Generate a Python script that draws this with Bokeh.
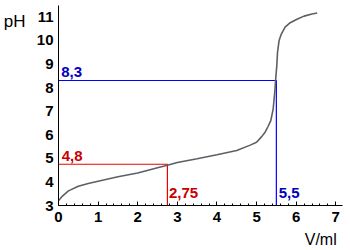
from bokeh.plotting import figure
from bokeh.models import Range1d, Label, FixedTicker, LinearAxis
from bokeh.embed import file_html
from bokeh.resources import INLINE

# Titration curve data (volume in ml, pH)
volume = [0, 0.1, 0.25, 0.5, 0.75, 1.0, 1.5, 2.0, 2.5, 2.75, 3.0, 3.5, 4.0, 4.5,
          4.84, 5.0, 5.13, 5.22, 5.29, 5.36, 5.42, 5.46, 5.48, 5.51, 5.53, 5.57,
          5.62, 5.72, 5.85, 6.02, 6.2, 6.4, 6.53]
ph = [3.2, 3.4, 3.62, 3.82, 3.93, 4.03, 4.22, 4.38, 4.6, 4.71, 4.82, 4.98, 5.15, 5.33,
      5.56, 5.68, 5.92, 6.12, 6.35, 6.6, 7.1, 7.8, 8.3, 8.9, 9.5, 10.0,
      10.25, 10.56, 10.75, 10.9, 11.03, 11.12, 11.16]

x_ticks = [0, 1, 2, 3, 4, 5, 6, 7]
y_ticks = [3, 4, 5, 6, 7, 8, 9, 10, 11]

eq_volume = 5.5
eq_ph = 8.3
half_volume = 2.75
half_ph = 4.75

eq_volume_label = "5,5"
eq_ph_label = "8,3"
half_volume_label = "2,75"
half_ph_label = "4,8"
x_title = "V/ml"
y_title = "pH"

RED_LINE = "#ee0000"
RED_TEXT = "#c80000"
BLUE_LINE = "#0000ff"
BLUE_TEXT = "#0000c0"
FONT = "Liberation Sans"

p = figure(width=350, height=250, output_backend="svg", toolbar_location=None,
           x_range=Range1d(0, 7.17), y_range=Range1d(3, 11.48),
           min_border_left=58, min_border_right=8, min_border_top=5, min_border_bottom=45)
p.outline_line_color = None
p.grid.visible = False
p.background_fill_color = "white"
p.border_fill_color = "white"

xa = p.xaxis[0]
xa.ticker = FixedTicker(ticks=x_ticks, minor_ticks=[i * 0.2 for i in range(0, 36)])
xa.major_tick_in = 4
xa.major_tick_out = 0
xa.minor_tick_in = 2
xa.minor_tick_out = 0
xa.major_label_text_font = FONT
xa.major_label_text_font_style = "bold"
xa.major_label_text_font_size = "15px"
xa.major_label_text_color = "black"
xa.major_label_standoff = 6
xa.axis_line_color = "black"

ya = p.yaxis[0]
ya.ticker = FixedTicker(ticks=y_ticks)
ya.major_tick_in = 0
ya.major_tick_out = 0
ya.minor_tick_line_color = None
ya.major_label_text_font = FONT
ya.major_label_text_font_style = "bold"
ya.major_label_text_font_size = "15px"
ya.major_label_text_color = "black"
ya.major_label_standoff = 5
ya.axis_line_color = "black"

# axis titles drawn as single-tick extra axes outside the frame
y_title_pos = 10.82
x_title_pos = 6.62
ty = LinearAxis(ticker=FixedTicker(ticks=[y_title_pos]),
                major_label_overrides={y_title_pos: y_title},
                axis_line_color=None, major_tick_line_color=None, minor_tick_line_color=None,
                major_label_text_font=FONT, major_label_text_font_size="17px",
                major_label_text_color="black", major_label_standoff=2)
p.add_layout(ty, "left")
tx = LinearAxis(ticker=FixedTicker(ticks=[x_title_pos]),
                major_label_overrides={x_title_pos: x_title},
                axis_line_color=None, major_tick_line_color=None, minor_tick_line_color=None,
                major_label_text_font=FONT, major_label_text_font_size="16px",
                major_label_text_color="black", major_label_standoff=0)
p.add_layout(tx, "below")

# guide lines
p.line([0, eq_volume, eq_volume], [eq_ph, eq_ph, 3], line_color=BLUE_LINE, line_width=1.2)
p.line([0, half_volume, half_volume], [half_ph, half_ph, 3], line_color=RED_LINE, line_width=1.2)

# curve
p.line(volume, ph, line_color="#5e5e66", line_width=1.6)

def add_label(x, y, text, color):
    p.add_layout(Label(x=x, y=y, text=text, text_color=color, text_font=FONT,
                       text_font_style="bold", text_font_size="15px",
                       text_baseline="alphabetic", text_align="left"))

add_label(0.07, 8.64, eq_ph_label, BLUE_TEXT)
add_label(0.08, 5.08, half_ph_label, RED_TEXT)
add_label(2.79, 3.55, half_volume_label, RED_TEXT)
add_label(5.56, 3.55, eq_volume_label, BLUE_TEXT)

open("out.html", "w").write(file_html(p, INLINE))
